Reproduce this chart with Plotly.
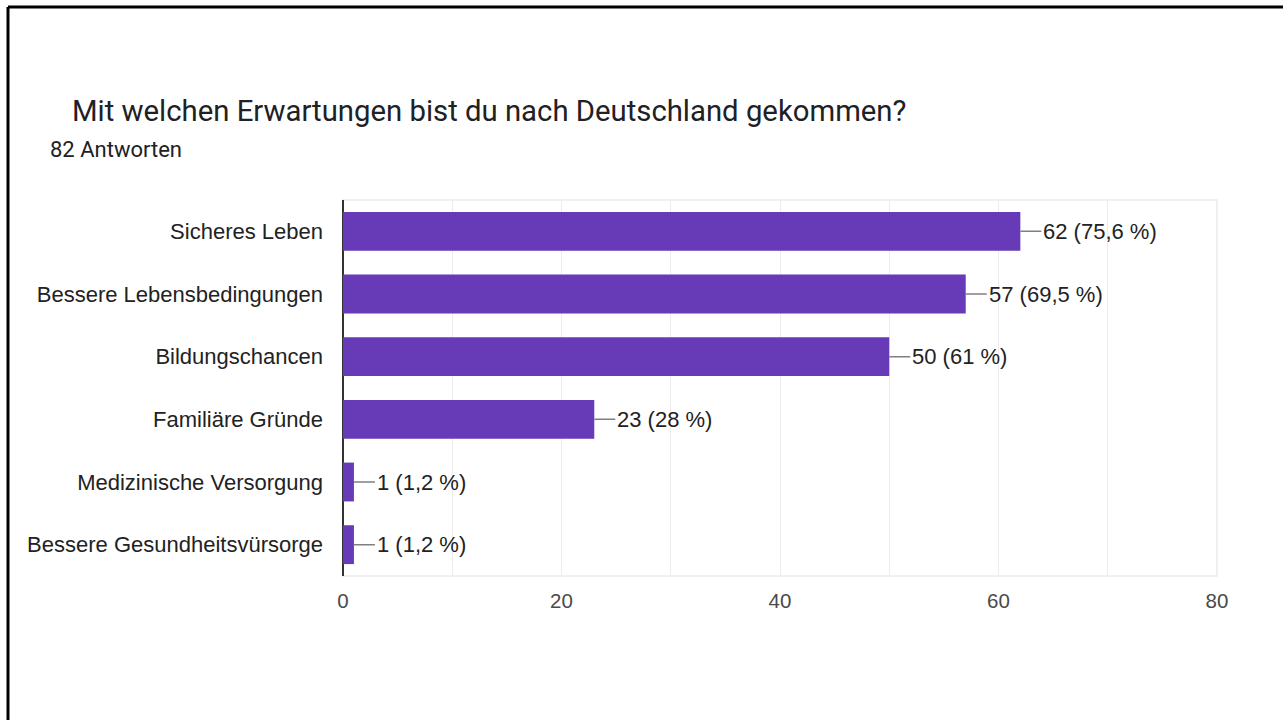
import plotly.graph_objects as go

# Survey answers (count of respondents per expectation)
categories = [
    "Sicheres Leben",
    "Bessere Lebensbedingungen",
    "Bildungschancen",
    "Familiäre Gründe",
    "Medizinische Versorgung",
    "Bessere Gesundheitsvürsorge",
]
counts = [62, 57, 50, 23, 1, 1]
percents = ["75,6", "69,5", "61", "28", "1,2", "1,2"]
x_ticks = [0, 20, 40, 60, 80]

title_text = "Mit welchen Erwartungen bist du nach Deutschland gekommen?"
subtitle_text = "82 Antworten"

W, H = 1283, 720
L, R, T, B = 343, 66, 200, 144
PW, PH = W - L - R, H - T - B


def px(xp):
    return (xp - L) / PW


def py(yp):
    return (H - B - yp) / PH


BAR = "#673ab7"
fig = go.Figure()
fig.add_trace(go.Bar(
    x=counts, y=categories, orientation="h",
    marker=dict(color=BAR, line=dict(width=0)),
    hoverinfo="skip",
))

# value labels with a short leader line
for c, cat, p in zip(counts, categories, percents):
    fig.add_annotation(
        x=c, y=cat, xref="x", yref="y",
        text=f"{c} ({p} %)", showarrow=True, arrowhead=0,
        arrowwidth=1.5, arrowcolor="#808080",
        ax=21, ay=0, xanchor="left", yanchor="middle",
        font=dict(family="Liberation Sans, Arial", size=22, color="#222222"),
        borderpad=1, standoff=0,
    )

# title and response count
fig.add_annotation(
    x=px(70), y=py(111), xref="paper", yref="paper",
    text=title_text, showarrow=False, xanchor="left", yanchor="middle",
    font=dict(family="Roboto", size=29.3, color="#202124"),
)
fig.add_annotation(
    x=px(48), y=py(150), xref="paper", yref="paper",
    text=subtitle_text, showarrow=False, xanchor="left", yanchor="middle",
    font=dict(family="Roboto", size=22, color="#202124"),
)

# frame around the card (top and left edges)
fig.add_shape(type="line", xref="paper", yref="paper",
              x0=px(8), x1=px(W + 10), y0=py(7), y1=py(7),
              line=dict(color="#000000", width=3))
fig.add_shape(type="line", xref="paper", yref="paper",
              x0=px(8), x1=px(8), y0=py(7), y1=py(H + 10),
              line=dict(color="#000000", width=3))

# light plot frame (top/right/bottom) and dark baseline at zero
fig.add_shape(type="rect", xref="paper", yref="paper",
              x0=0, x1=1, y0=0, y1=1, layer="below",
              line=dict(color="#ececec", width=1.5))

fig.update_layout(
    width=W, height=H,
    margin=dict(l=L, r=R, t=T, b=B),
    paper_bgcolor="white", plot_bgcolor="white",
    showlegend=False, bargap=0.38,
    xaxis=dict(
        range=[0, 80], tickvals=x_ticks, ticks="", showline=False,
        showgrid=True, gridcolor="#ececec", gridwidth=1,
        minor=dict(showgrid=True, gridcolor="#ececec", dtick=10),
        zeroline=True, zerolinecolor="#333333", zerolinewidth=2,
        tickfont=dict(family="Liberation Sans, Arial", size=20.5, color="#4a4a4a"),
        ticklabelstandoff=10, fixedrange=True,
    ),
    yaxis=dict(
        autorange="reversed", ticks="", showgrid=False, showline=False,
        tickfont=dict(family="Liberation Sans, Arial", size=22, color="#222222"),
        ticklabelstandoff=19, fixedrange=True,
    ),
)

fig.write_html("out.html", config={"displayModeBar": False})
